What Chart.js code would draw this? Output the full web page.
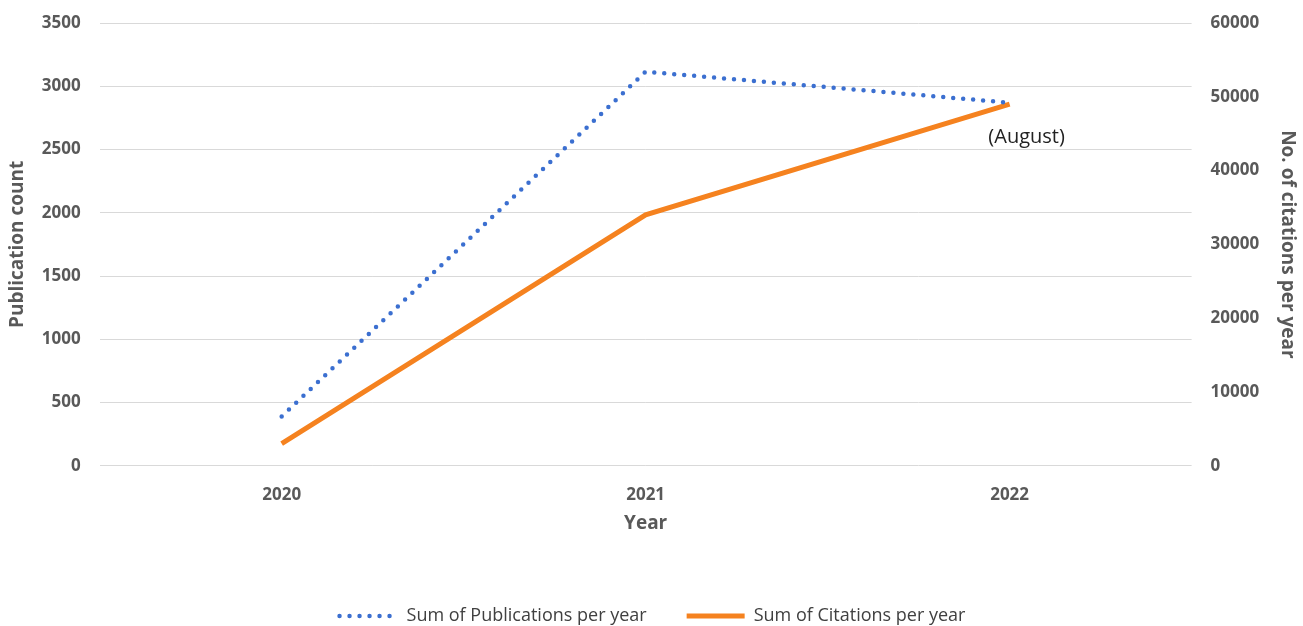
<!DOCTYPE html>
<html>
<head>
<meta charset="utf-8">
<script src="https://cdn.jsdelivr.net/npm/chart.js@4"></script>
<style>
  html, body { margin: 0; padding: 0; background: #fff; }
  #wrap { width: 1303px; height: 626px; }
</style>
</head>
<body>
<div id="wrap"><canvas id="chart"></canvas></div>
<script>
  // Data
  const years = ['2020', '2021', '2022'];
  const publications = [390, 3115, 2870];
  const citations = [3000, 34000, 49000];
  const pubTicks = [0, 3500, 500];
  const citTicks = [0, 60000, 10000];
  const note = '(August)';

  const grey = '#595959';
  const tickFont = { family: 'Open Sans', size: 17, weight: 'bold' };
  const titleFont = { family: 'Open Sans', size: 19, weight: 'bold' };

  // Draws the "(August)" note under the last citation point
  const notePlugin = {
    id: 'note',
    afterDatasetsDraw(chart) {
      const { ctx, scales } = chart;
      const x = scales.x.getPixelForValue(2);
      const y = scales.y1.getPixelForValue(citations[2]);
      ctx.save();
      ctx.font = '20px "Open Sans"';
      ctx.fillStyle = '#222';
      ctx.textAlign = 'center';
      ctx.textBaseline = 'middle';
      ctx.fillText(note, x + 17, y + 33);
      ctx.restore();
    }
  };

  new Chart(document.getElementById('chart'), {
    type: 'line',
    data: {
      labels: years,
      datasets: [
        {
          label: 'Sum of Publications per year',
          data: publications,
          yAxisID: 'y',
          borderColor: '#3b6fd0',
          backgroundColor: '#3b6fd0',
          borderWidth: 4.5,
          borderDash: [0, 10],
          borderCapStyle: 'round',
          pointRadius: 0,
          tension: 0
        },
        {
          label: 'Sum of Citations per year',
          data: citations,
          yAxisID: 'y1',
          borderColor: '#f5821f',
          backgroundColor: '#f5821f',
          borderWidth: 5,
          borderCapStyle: 'butt',
          pointRadius: 0,
          tension: 0
        }
      ]
    },
    options: {
      responsive: true,
      maintainAspectRatio: false,
      animation: false,
      layout: { padding: { left: 6, right: 4, top: 23, bottom: -9 } },
      plugins: {
        tooltip: { enabled: false },
        legend: {
          position: 'bottom',
          labels: {
            usePointStyle: true,
            pointStyle: 'line',
            pointStyleWidth: 58,
            padding: 40,
            color: '#404040',
            font: { family: 'Open Sans', size: 18 },
            // keep the dataset's dash pattern in the legend sample
            generateLabels(chart) {
              return Chart.defaults.plugins.legend.labels.generateLabels(chart).map(item => {
                const ds = chart.data.datasets[item.datasetIndex];
                item.lineDash = ds.borderDash || [];
                item.lineCap = ds.borderCapStyle;
                item.lineWidth = ds.borderWidth;
                item.strokeStyle = ds.borderColor;
                return item;
              });
            }
          }
        }
      },
      scales: {
        x: {
          offset: true,
          grid: { display: false },
          border: { display: false },
          ticks: { color: grey, font: tickFont, padding: 11 },
          title: { display: true, text: 'Year', color: grey, font: titleFont, padding: { top: -4, bottom: 32 } }
        },
        y: {
          position: 'left',
          min: pubTicks[0],
          max: pubTicks[1],
          ticks: { stepSize: pubTicks[2], color: grey, font: tickFont, padding: 3, callback: v => String(v) },
          grid: { color: '#d9d9d9', drawTicks: true, tickLength: 16, tickColor: 'transparent' },
          border: { display: false },
          title: { display: true, text: 'Publication count', color: grey, font: titleFont, padding: { top: 0, bottom: 10 } }
        },
        y1: {
          position: 'right',
          min: citTicks[0],
          max: citTicks[1],
          ticks: { stepSize: citTicks[2], color: grey, font: tickFont, padding: 3, callback: v => String(v) },
          grid: { drawOnChartArea: false, color: 'transparent', drawTicks: true, tickLength: 16, tickColor: 'transparent' },
          border: { display: false },
          title: { display: true, text: 'No. of citations per year', color: grey, font: titleFont, padding: { top: 0, bottom: 14 } }
        }
      }
    },
    plugins: [notePlugin]
  });
</script>
</body>
</html>
